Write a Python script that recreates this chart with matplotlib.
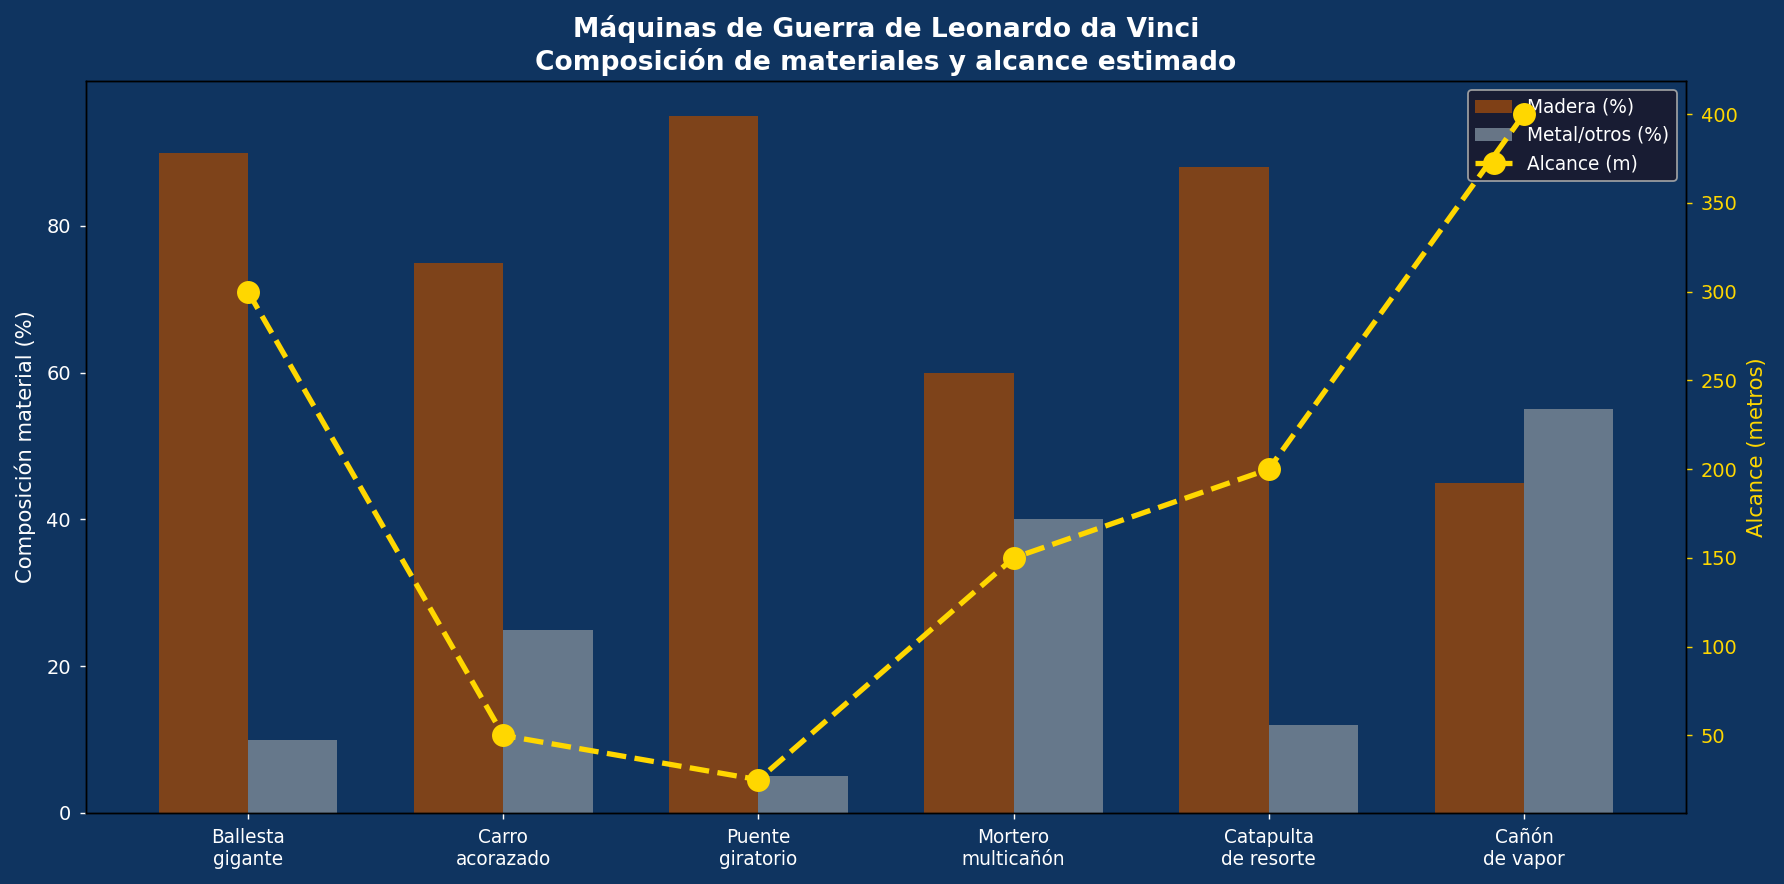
import matplotlib
matplotlib.use("Agg")
import matplotlib.pyplot as plt
import numpy as np

categorias = ["Ballesta\ngigante", "Carro\nacorazado", "Puente\ngiratorio",
              "Mortero\nmulticañón", "Catapulta\nde resorte", "Cañón\nde vapor"]
madera = [90, 75, 95, 60, 88, 45]
metal = [10, 25, 5, 40, 12, 55]
alcance = [300, 50, 25, 150, 200, 400]

BG = "#0f3460"
DPI = 127
W, H = 1784, 884
fig = plt.figure(figsize=(W / DPI, H / DPI), dpi=DPI, facecolor=BG)
L, R, T, B = 86, 1686, 81, 813
ax1 = fig.add_axes([L / W, 1 - B / H, (R - L) / W, (B - T) / H])
ax1.set_facecolor(BG)

x = np.arange(len(categorias))
w = 0.35
b1 = ax1.bar(x - w / 2, madera, w, color="#8B4513", alpha=0.9, label="Madera (%)")
b2 = ax1.bar(x + w / 2, metal, w, color="#708090", alpha=0.9, label="Metal/otros (%)")
ax1.set_xticks(x)
ax1.set_xticklabels(categorias, color="white", fontsize=10.5)
ax1.set_ylabel("Composición material (%)", color="white", fontsize=12, labelpad=6)
ax1.tick_params(axis="y", colors="white", labelsize=11, pad=5)
ax1.tick_params(axis="x", colors="white", pad=5)
for s in ax1.spines.values():
    s.set_color("black")

ax2 = ax1.twinx()
l1, = ax2.plot(x, alcance, color="#FFD700", linestyle="--", linewidth=3,
               marker="o", markersize=12, label="Alcance (m)")
ax2.set_ylabel("Alcance (metros)", color="#FFD700", fontsize=12, labelpad=5)
ax2.tick_params(axis="y", colors="#FFD700", labelsize=11, pad=5)
for s in ax2.spines.values():
    s.set_color("black")

leg = ax1.legend([b1, b2, l1], ["Madera (%)", "Metal/otros (%)", "Alcance (m)"],
                 loc="upper right", facecolor="#1a1a2e", edgecolor="#aaaaaa",
                 labelcolor="white", fontsize=10.5, framealpha=0.9)

ax1.set_title("Máquinas de Guerra de Leonardo da Vinci\nComposición de materiales y alcance estimado",
              color="white", fontsize=15, fontweight="bold", pad=6, linespacing=1.25)

fig.savefig("out.png", dpi=DPI, facecolor=BG)
